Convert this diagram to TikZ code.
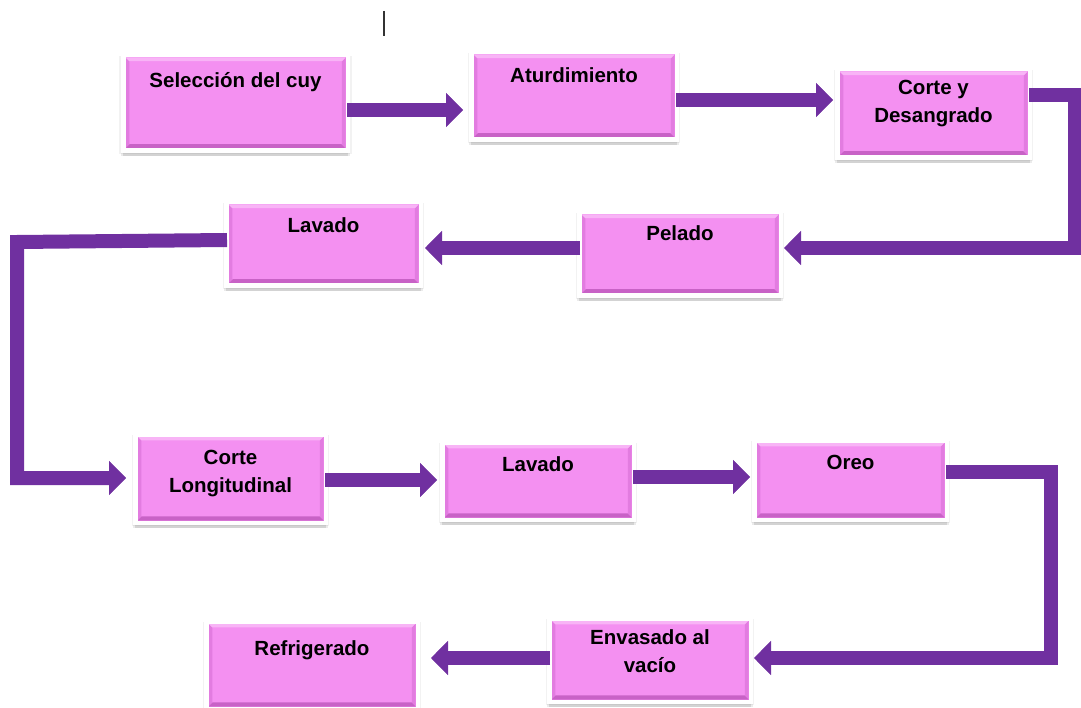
\documentclass[tikz,border=0pt]{standalone}
\usepackage{fontspec}
\setmainfont{Liberation Sans}
\usetikzlibrary{arrows.meta,shadows}
\definecolor{boxpink}{HTML}{F490F1}
\definecolor{pinkdark}{HTML}{C862C6}
\definecolor{pinkside}{HTML}{E27CE0}
\definecolor{pinklight}{HTML}{F8B4F6}
\definecolor{arrowpurple}{HTML}{7030A0}
\tikzset{
  stepbox/.style={
    draw=white, line width=4.5pt, fill=boxpink,
    drop shadow={shadow xshift=0pt, shadow yshift=-5.5pt, opacity=0.10, fill=black},
    drop shadow={shadow xshift=0pt, shadow yshift=-4pt, shadow scale=1.02, opacity=0.08, fill=black},
    drop shadow={shadow xshift=0pt, shadow yshift=-2pt, shadow scale=1.035, opacity=0.05, fill=black},
    preaction={draw=black!10, line width=5.4pt},
    path picture={
      \fill[pinkside] ([xshift=2.2pt,yshift=2.2pt]path picture bounding box.south west)
        -- ([xshift=6pt,yshift=6pt]path picture bounding box.south west)
        -- ([xshift=6pt,yshift=-6pt]path picture bounding box.north west)
        -- ([xshift=2.2pt,yshift=-2.2pt]path picture bounding box.north west) -- cycle;
      \fill[pinkside] ([xshift=-2.2pt,yshift=2.2pt]path picture bounding box.south east)
        -- ([xshift=-6pt,yshift=6pt]path picture bounding box.south east)
        -- ([xshift=-6pt,yshift=-6pt]path picture bounding box.north east)
        -- ([xshift=-2.2pt,yshift=-2.2pt]path picture bounding box.north east) -- cycle;
      \fill[pinklight] ([xshift=2.2pt,yshift=-2.2pt]path picture bounding box.north west)
        -- ([xshift=6pt,yshift=-6pt]path picture bounding box.north west)
        -- ([xshift=-6pt,yshift=-6pt]path picture bounding box.north east)
        -- ([xshift=-2.2pt,yshift=-2.2pt]path picture bounding box.north east) -- cycle;
      \fill[pinkdark] ([xshift=2.2pt,yshift=2.2pt]path picture bounding box.south west)
        -- ([xshift=6.5pt,yshift=6.5pt]path picture bounding box.south west)
        -- ([xshift=-6.5pt,yshift=6.5pt]path picture bounding box.south east)
        -- ([xshift=-2.2pt,yshift=2.2pt]path picture bounding box.south east) -- cycle;
    }},
  lbl/.style={font=\fontsize{20.5}{27.5}\selectfont\bfseries, align=center, inner sep=0pt, text=black},
  flow/.style={draw=arrowpurple, line width=14pt, line join=miter,
    -{Triangle[length=17pt,width=34pt,line width=0.4pt]}},
}
\begin{document}
\begin{tikzpicture}[x=1pt,y=-1pt]
\useasboundingbox (0,0) rectangle (1081,708);
% boxes (outer size minus border)
\node[stepbox, minimum width=224.5pt, minimum height=95.5pt] (sel) at (235.5,103) {};
\node[stepbox, minimum width=205.5pt, minimum height=87.5pt] (atu) at (574,96) {};
\node[stepbox, minimum width=192.5pt, minimum height=88.5pt] (cor) at (933.5,113.5) {};
\node[stepbox, minimum width=194.5pt, minimum height=83.5pt] (lav1) at (323.5,244) {};
\node[stepbox, minimum width=201.5pt, minimum height=83.5pt] (pel) at (680,254) {};
\node[stepbox, minimum width=190.5pt, minimum height=88.5pt] (clo) at (230.5,478.5) {};
\node[stepbox, minimum width=191.5pt, minimum height=77.5pt] (lav2) at (538,481) {};
\node[stepbox, minimum width=192.5pt, minimum height=79.5pt] (ore) at (850.5,480) {};
\node[stepbox, minimum width=201.5pt, minimum height=83.5pt] (env) at (650,660) {};
\node[stepbox, minimum width=211.5pt, minimum height=87.5pt] (ref) at (312,665) {};
% labels
\node[lbl, anchor=base] (tsel) at (sel.center |- 0,87.5) {Selección del cuy};
\node[lbl, anchor=base] (tatu) at (atu.center |- 0,82.5) {Aturdimiento};
\node[lbl] (tcor) at (cor.center |- 0,103.5) {Corte y\\Desangrado};
\node[lbl, anchor=base] (tlav1) at (lav1.center |- 0,232.5) {Lavado};
\node[lbl, anchor=base] (tpel) at (pel.center |- 0,240.5) {Pelado};
\node[lbl] (tclo) at (clo.center |- 0,473.5) {Corte\\Longitudinal};
\node[lbl, anchor=base] (tlav2) at (lav2.center |- 0,471.5) {Lavado};
\node[lbl, anchor=base] (tore) at (ore.center |- 0,469.5) {Oreo};
\node[lbl] (tenv) at (env.center |- 0,651) {Envasado al\\vacío};
\node[lbl, anchor=base] (tref) at (ref.center |- 0,655.5) {Refrigerado};
% connectors
\draw[flow] ([xshift=-3pt]sel.east |- 0,110) -- ([xshift=-6pt]atu.west |- 0,110);
\draw[flow] ([xshift=-3pt]atu.east |- 0,100) -- ([xshift=-2pt]cor.west |- 0,100);
\draw[flow] ([xshift=-3pt]cor.east |- 0,95) -- (1075,95) -- (1075,248) -- ([xshift=1pt]pel.east |- 0,248);
\draw[flow] ([xshift=3pt]pel.west |- 0,248) -- ([xshift=2pt]lav1.east |- 0,248);
\draw[flow] ([xshift=3pt]lav1.west |- 0,240) -- (17,242) -- (17,478) -- ([xshift=-7pt]clo.west |- 0,478);
\draw[flow] ([xshift=-3pt]clo.east |- 0,480) -- ([xshift=-3pt]lav2.west |- 0,480);
\draw[flow] ([xshift=-3pt]lav2.east |- 0,477) -- ([xshift=-2pt]ore.west |- 0,477);
\draw[flow] ([xshift=-3pt]ore.east |- 0,472) -- (1051,472) -- (1051,658) -- ([xshift=1pt]env.east |- 0,658);
\draw[flow] ([xshift=3pt]env.west |- 0,658) -- ([xshift=11pt]ref.east |- 0,658);
% text cursor mark
\draw[line width=1.3pt, black!80] (384,11) -- (384,36);
\end{tikzpicture}
\end{document}
